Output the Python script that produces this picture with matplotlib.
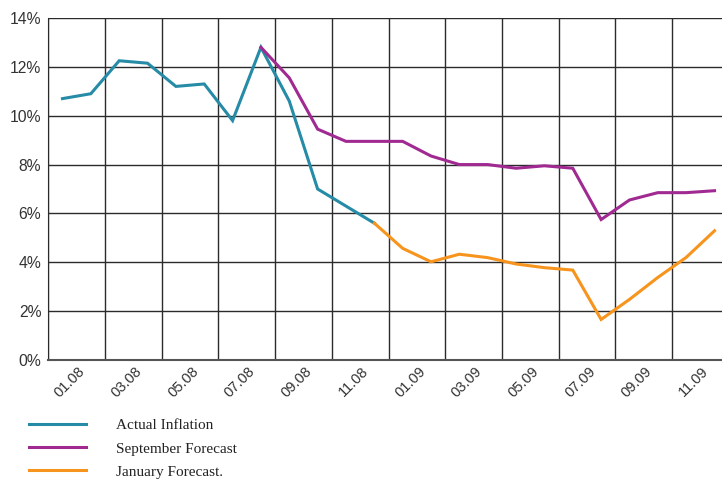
import matplotlib
matplotlib.use("Agg")
import matplotlib.pyplot as plt
import numpy as np

# Monthly periods, January 2008 through December 2009
months = ["01.08", "02.08", "03.08", "04.08", "05.08", "06.08", "07.08", "08.08",
          "09.08", "10.08", "11.08", "12.08", "01.09", "02.09", "03.09", "04.09",
          "05.09", "06.09", "07.09", "08.09", "09.09", "10.09", "11.09", "12.09"]

# Inflation, % year on year (None = no value for that month)
actual = [10.7, 10.9, 12.25, 12.15, 11.2, 11.3, 9.8, 12.8, 10.6, 7.0, 6.3, 5.6,
          None, None, None, None, None, None, None, None, None, None, None, None]
september = [None, None, None, None, None, None, None, 12.8, 11.55, 9.45, 8.95, 8.95,
             8.95, 8.35, 8.0, 8.0, 7.85, 7.95, 7.85, 5.75, 6.55, 6.85, 6.85, 6.93]
january = [None, None, None, None, None, None, None, None, None, None, None, 5.6,
           4.57, 4.02, 4.33, 4.19, 3.93, 3.78, 3.68, 1.66, 2.48, 3.38, 4.2, 5.29]

series_names = ["Actual Inflation", "September Forecast", "January Forecast."]
series_colors = ["#268BA6", "#A02A92", "#F7941D"]
y_ticks = [0, 2, 4, 6, 8, 10, 12, 14]


def as_array(values):
    return np.array([np.nan if v is None else v for v in values], dtype=float)


fig = plt.figure(figsize=(7.22, 4.79), dpi=100)
ax = fig.add_axes([48.3 / 722, 1 - 360 / 479, 680.4 / 722, 342 / 479])

x = np.arange(len(months))
for values, name, color in zip([actual, september, january], series_names, series_colors):
    ax.plot(x, as_array(values), color=color, lw=2.2, label=name,
            solid_joinstyle="miter", zorder=3)

ax.set_xlim(-0.5, len(months) - 0.5)
ax.set_ylim(0, 14)

# Gridlines sit on the boundaries between two-month groups
ax.set_xticks(np.arange(-0.5, len(months), 2))
ax.set_xticklabels([])
ax.set_xticks(np.arange(0, len(months), 2) + 0.72, minor=True)
ax.set_xticklabels(months[::2], minor=True)
ax.tick_params(axis="x", which="both", length=0)
ax.tick_params(axis="x", which="minor", pad=6.5)
for lbl in ax.get_xticklabels(minor=True):
    lbl.set_rotation(45)
    lbl.set_ha("right")
    lbl.set_va("center")
    lbl.set_rotation_mode("anchor")
    lbl.set_fontfamily("Liberation Sans")
    lbl.set_fontsize(10.5)
    lbl.set_color("#333333")

ax.set_yticks(y_ticks)
ax.set_yticklabels([f"{v}%" for v in y_ticks], fontfamily="Liberation Sans",
                   fontsize=11.3, color="#333333")
ax.tick_params(axis="y", length=0, pad=5)

ax.grid(True, which="major", color="#2b2b2b", lw=1.0)
ax.set_axisbelow(True)
for side in ["top", "right"]:
    ax.spines[side].set_visible(False)
ax.spines["left"].set_color("#2b2b2b")
ax.spines["bottom"].set_color("#555555")
ax.spines["bottom"].set_linewidth(1.5)

handles, labels = ax.get_legend_handles_labels()
fig.legend(handles, labels, loc="upper left", bbox_to_anchor=(15 / 722, 1 - 405 / 479),
           frameon=False, handlelength=3.75, handletextpad=1.95, labelspacing=0.62,
           prop={"family": "Liberation Serif", "size": 11}, labelcolor="#222222")

fig.savefig("out.png", dpi=100)
